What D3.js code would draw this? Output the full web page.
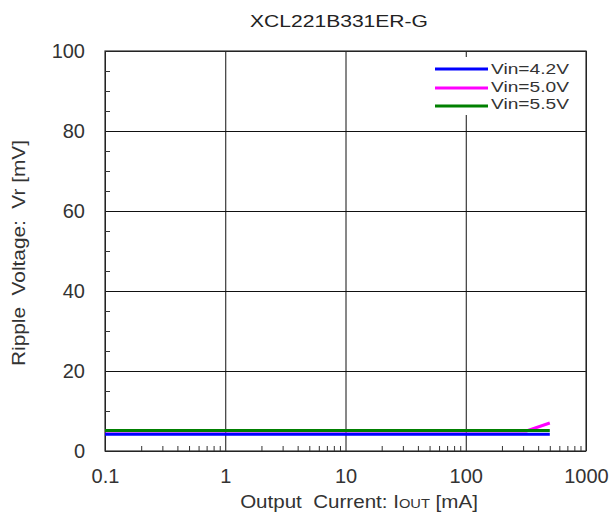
<!DOCTYPE html>
<html>
<head>
<meta charset="utf-8">
<script src="https://cdn.jsdelivr.net/npm/d3@7"></script>
<style>
  html, body { margin: 0; padding: 0; background: #fff; }
  svg { display: block; font-family: "Liberation Sans", Arial, sans-serif; }
</style>
</head>
<body>
<svg id="chart" width="612" height="520"></svg>
<script>
// ---- data ----
const title = "XCL221B331ER-G";
const iout = [0.1, 1, 10, 100, 320, 500];               // mA
const vr42 = [4.2, 4.2, 4.2, 4.2, 4.2, 4.2];             // mV, Vin=4.2V
const vr50 = [5.0, 5.0, 5.0, 5.0, 5.0, 7.0];             // mV, Vin=5.0V
const vr55 = [5.1, 5.1, 5.1, 5.1, 5.1, 5.1];             // mV, Vin=5.5V
const seriesNames = ["Vin=4.2V", "Vin=5.0V", "Vin=5.5V"];
const seriesColors = ["#0000ff", "#ff00ff", "#008000"];
const xTickValues = [0.1, 1, 10, 100, 1000];
const xTickLabels = ["0.1", "1", "10", "100", "1000"];
const yTickValues = [0, 20, 40, 60, 80, 100];
const yTickLabels = ["0", "20", "40", "60", "80", "100"];

// ---- layout ----
const svg = d3.select("#chart");
const L = 105, R = 586, T = 51, B = 451;
const W = R - L, H = B - T;
const x = d3.scaleLog().domain([0.1, 1000]).range([L, R]);
const y = d3.scaleLinear().domain([0, 100]).range([B, T]);
const textColor = "#333";

// helper: horizontally stretched text to target width
function stretch(sel, target) {
  const len = sel.node().getComputedTextLength();
  return len;
}

// grid + major labels
const gx = svg.append("g").attr("transform", `translate(0,${B})`)
  .call(d3.axisBottom(x).tickValues(xTickValues).tickSize(-H).tickPadding(18)
    .tickFormat((d, i) => xTickLabels[i]));
const gy = svg.append("g").attr("transform", `translate(${L},0)`)
  .call(d3.axisLeft(y).tickValues(yTickValues).tickSize(-W).tickPadding(20)
    .tickFormat((d, i) => yTickLabels[i]));
[gx, gy].forEach(g => {
  g.select(".domain").remove();
  g.selectAll(".tick line").attr("stroke", "#111").attr("stroke-width", 1);
  g.selectAll(".tick text").attr("fill", textColor)
    .style("font-family", '"Liberation Sans", Arial, sans-serif').style("font-size", "20px");
});

// minor ticks
const xMinor = [];
for (let e = -1; e < 3; e++) for (let k = 2; k <= 9; k++) xMinor.push(k * Math.pow(10, e));
const yMinor = d3.range(5, 100, 10);
const mx = svg.append("g").attr("transform", `translate(0,${B})`)
  .call(d3.axisBottom(x).tickValues(xMinor).tickSize(-5).tickFormat(""));
const my = svg.append("g").attr("transform", `translate(${L},0)`)
  .call(d3.axisLeft(y).tickValues(yMinor.concat(d3.range(10, 100, 20))).tickSize(-5).tickFormat(""));
[mx, my].forEach(g => {
  g.select(".domain").remove();
  g.selectAll(".tick line").attr("stroke", "#333").attr("stroke-width", 1);
});

// frame
svg.append("rect").attr("x", L).attr("y", T).attr("width", W).attr("height", H)
  .attr("fill", "none").attr("stroke", "#333").attr("stroke-width", 1.2);

// series lines
const lineGen = d3.line().x(d => x(d[0])).y(d => y(d[1]));
const order = [
  { vals: vr50, c: seriesColors[1] },
  { vals: vr42, c: seriesColors[0] },
  { vals: vr55, c: seriesColors[2] }
];
order.forEach(s => {
  svg.append("path").datum(iout.map((v, i) => [v, s.vals[i]]))
    .attr("d", lineGen).attr("fill", "none").attr("stroke", s.c).attr("stroke-width", 3);
});

// legend
const lg = svg.append("g");
lg.append("rect").attr("x", 430).attr("y", 57).attr("width", R - 430 - 1).attr("height", 58).attr("fill", "#fff");
const legY = [69, 88, 106];
const legTextY = [74, 92, 109];
seriesNames.forEach((n, i) => {
  lg.append("line").attr("x1", 435).attr("x2", 488).attr("y1", legY[i]).attr("y2", legY[i])
    .attr("stroke", seriesColors[i]).attr("stroke-width", 3);
  const t = lg.append("text").attr("x", 0).attr("y", 0).attr("fill", textColor)
    .style("font-size", "14px").text(n);
  const len = t.node().getComputedTextLength();
  t.attr("transform", `translate(491,${legTextY[i]}) scale(${78 / len},1)`);
});

// title
{
  const t = svg.append("text").attr("fill", "#222").style("font-size", "17px").attr("text-anchor", "middle").text(title);
  const len = t.node().getComputedTextLength();
  t.attr("transform", `translate(339,27) scale(${178 / len},1)`);
}

// x axis label
{
  const t = svg.append("text").attr("fill", textColor).style("font-size", "17.5px").attr("text-anchor", "middle");
  t.append("tspan").text("Output\u00a0\u00a0Current:\u00a0I");
  t.append("tspan").style("font-size", "12.5px").text("OUT");
  t.append("tspan").text(" [mA]");
  const len = t.node().getComputedTextLength();
  t.attr("transform", `translate(359,508) scale(${238 / len},1)`);
}

// y axis label
{
  const t = svg.append("text").attr("fill", textColor).style("font-size", "17.5px").attr("text-anchor", "middle")
    .text("Ripple\u00a0\u00a0Voltage:\u00a0\u00a0Vr [mV]");
  const len = t.node().getComputedTextLength();
  t.attr("transform", `translate(25,253) rotate(-90) scale(${226 / len},1)`);
}
</script>
</body>
</html>
